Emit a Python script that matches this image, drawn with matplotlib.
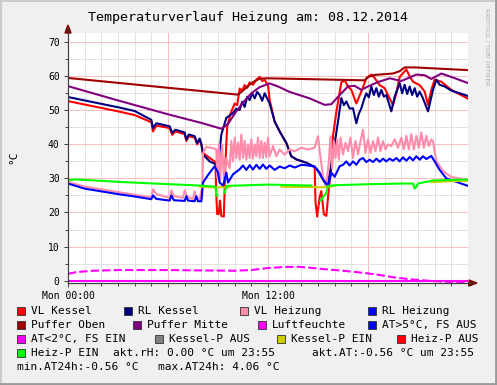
import numpy as np
import matplotlib
matplotlib.use('Agg')
import matplotlib.pyplot as plt
from matplotlib.patches import Rectangle
from matplotlib.lines import Line2D

# ---- data (hours since Mon 00:00) ----
vl_kessel_t = [0, 1, 2, 3, 4, 5.0, 5.1, 5.3, 6.1, 6.25, 6.45, 7.0, 7.1, 7.25, 7.6, 7.75, 7.9, 8.0, 8.1,
               8.5, 8.85, 8.9, 8.95, 9.05, 9.12, 9.2, 9.35, 9.45, 9.55, 9.75, 10.0, 10.15, 10.3, 10.45,
               10.6, 10.75, 10.9, 11.1, 11.3, 11.5, 11.65, 11.8, 12.0, 12.1, 12.4, 12.7, 13.1, 13.4,
               13.7, 14.3, 14.8, 14.85, 14.95, 15.1, 15.2, 15.35, 15.5, 15.65, 15.8, 15.9, 16.1, 16.4,
               16.6, 16.8, 17.0, 17.3, 17.6, 17.9, 18.2, 18.4, 18.7, 19.0, 19.3, 19.5, 19.7, 19.9,
               20.3, 20.5, 20.7, 21.1, 21.4, 21.6, 21.8, 22.0, 22.4, 23.0, 24.0]
vl_kessel = [52.7, 51.7, 50.7, 49.7, 48.6, 46.5, 43.8, 45.5, 44.8, 42.8, 43.8, 43.0, 41.0, 42.4, 42.0, 40.0,
             41.4, 40.2, 37.5, 36.0, 34.8, 25.0, 19.5, 19.6, 23.5, 19.0, 18.8, 35.0, 45.2, 49.0, 52.0,
             51.5, 56.4, 55.8, 57.4, 56.6, 58.2, 57.5, 59.0, 59.8, 58.6, 58.9, 57.4, 53.0, 46.7, 43.8,
             40.4, 36.5, 35.6, 34.6, 33.3, 23.0, 18.8, 24.5, 26.3, 19.5, 19.0, 27.0, 33.0, 42.5, 49.5,
             58.2, 58.8, 57.0, 56.0, 52.0, 55.5, 59.4, 60.5, 59.5, 57.4, 56.5, 53.5, 51.5, 55.0, 59.8,
             62.0, 60.0, 58.4, 57.4, 55.5, 51.6, 56.0, 59.0, 58.4, 56.0, 53.4]

rl_kessel_t = [0, 1, 2, 3, 4, 5.0, 5.1, 5.3, 6.1, 6.25, 6.45, 7.0, 7.1, 7.25, 7.6, 7.75, 7.9, 8.0, 8.1,
               8.5, 8.9, 9.0, 9.1, 9.2, 9.5, 9.7, 9.9, 10.1, 10.3, 10.45, 10.6, 10.75, 10.9, 11.05,
               11.2, 11.35, 11.5, 11.65, 11.8, 11.95, 12.1, 12.4, 12.7, 13.1, 13.4, 13.7, 14.3, 14.8,
               15.1, 15.5, 15.7, 15.9, 16.2, 16.4, 16.55, 16.7, 16.9, 17.1, 17.3, 17.45, 17.6, 17.75,
               17.9, 18.05, 18.2, 18.35, 18.5, 18.65, 18.8, 18.95, 19.1, 19.4, 19.6, 19.9, 20.05, 20.2,
               20.35, 20.5, 20.65, 20.8, 20.95, 21.1, 21.3, 21.6, 21.9, 22.1, 22.3, 22.6, 23.0, 23.5, 24]
rl_kessel = [53.9, 52.9, 51.9, 50.9, 49.8, 47.2, 44.8, 46.2, 45.3, 43.4, 44.3, 43.5, 41.4, 42.9, 42.4, 40.4,
             41.7, 40.0, 37.0, 35.0, 34.1, 32.2, 38.0, 42.9, 47.8, 48.5, 49.2, 50.5, 50.1, 52.5, 51.0,
             54.0, 53.0, 55.0, 53.5, 55.4, 54.5, 52.8, 55.0, 53.5, 52.0, 46.7, 43.8, 40.4, 36.5, 35.6,
             34.6, 33.4, 31.7, 27.8, 31.2, 37.0, 46.7, 53.6, 51.5, 52.6, 50.5, 50.6, 46.2, 49.0, 50.6,
             53.0, 55.0, 53.8, 57.0, 54.5, 56.5, 54.0, 56.0, 54.0, 54.5, 49.7, 54.0, 58.0, 55.0, 57.5,
             54.8, 57.0, 54.5, 56.5, 54.0, 55.5, 53.5, 49.7, 56.0, 59.0, 57.5, 57.0, 55.8, 55.0, 54.2]

vl_heizung_t = [0, 1, 2, 3, 4, 5.0, 5.1, 5.3, 6.1, 6.2, 6.35, 6.9, 7.0, 7.15, 7.5, 7.6, 7.7, 7.9, 8.0, 8.05,
                8.1, 8.3, 8.6, 8.9, 8.95, 9.05, 9.12, 9.25, 9.35, 9.5, 9.7, 9.8, 9.9, 10.0, 10.1, 10.2,
                10.3, 10.4, 10.5, 10.6, 10.7, 10.8, 10.9, 11.0, 11.1, 11.2, 11.3, 11.4, 11.5, 11.6, 11.7,
                11.8, 11.9, 12.0, 12.1, 12.3, 12.5, 12.7, 13.0, 13.3, 13.6, 14.0, 14.4, 14.8, 15.0, 15.1,
                15.3, 15.5, 15.65, 15.75, 15.85, 15.95, 16.05, 16.15, 16.25, 16.35, 16.5, 16.65, 16.8,
                16.95, 17.1, 17.25, 17.4, 17.55, 17.7, 17.85, 18.0, 18.15, 18.3, 18.45, 18.6, 18.75,
                18.9, 19.05, 19.2, 19.4, 19.6, 19.8, 20.0, 20.15, 20.3, 20.45, 20.6, 20.75, 20.9, 21.05,
                21.2, 21.35, 21.5, 21.65, 21.8, 21.9, 22.1, 22.5, 23.0, 24]
vl_heizung = [29.0, 27.6, 26.8, 26.0, 25.2, 24.5, 26.8, 25.4, 24.3, 26.5, 24.8, 24.3, 26.5, 24.6, 24.0, 26.2,
              24.2, 24.0, 26.5, 24.3, 37.5, 39.3, 39.0, 38.5, 30.3, 40.0, 29.2, 40.0, 30.0, 36.0, 33.0,
              41.0, 35.0, 42.0, 36.0, 40.5, 35.5, 42.9, 36.0, 41.0, 35.5, 40.0, 36.0, 41.5, 35.8, 40.0,
              36.5, 42.0, 36.0, 41.0, 36.0, 40.5, 36.2, 42.0, 36.5, 39.5, 36.5, 38.5, 37.0, 38.5, 38.0,
              39.0, 38.5, 39.0, 42.4, 38.0, 30.7, 27.8, 35.0, 42.4, 33.0, 41.0, 36.0, 41.5, 35.5, 42.0,
              37.0, 40.5, 38.0, 42.0, 36.0, 41.0, 37.0, 41.0, 44.3, 37.5, 41.5, 37.5, 41.0, 38.0, 42.0,
              38.0, 41.0, 38.5, 40.0, 39.5, 41.5, 39.0, 42.0, 38.5, 42.5, 38.5, 43.0, 38.5, 42.5, 39.0,
              43.5, 39.0, 42.5, 39.5, 41.5, 40.9, 35.1, 32.2, 30.4, 29.6]

rl_heizung_t = [0, 1, 2, 3, 4, 5.0, 5.1, 5.3, 6.1, 6.2, 6.35, 7.0, 7.1, 7.2, 7.6, 7.7, 7.8, 8.0, 8.1, 8.4,
                8.8, 9.0, 9.1, 9.3, 9.5, 9.6, 9.9, 10.3, 10.5, 10.7, 10.9, 11.1, 11.3, 11.5, 11.7, 11.9,
                12.1, 12.4, 12.7, 13.0, 13.3, 13.6, 14.0, 14.4, 14.8, 15.0, 15.3, 15.6, 15.8, 16.0, 16.3,
                16.5, 16.7, 16.9, 17.1, 17.3, 17.5, 17.7, 17.9, 18.1, 18.3, 18.5, 18.7, 18.9, 19.1, 19.3,
                19.5, 19.7, 19.9, 20.1, 20.3, 20.5, 20.7, 20.9, 21.1, 21.3, 21.5, 21.8, 22.0, 22.3, 22.7,
                23.3, 24]
rl_heizung = [28.5, 27.0, 26.2, 25.4, 24.7, 23.9, 25.0, 24.0, 23.5, 25.0, 23.6, 23.4, 24.8, 23.5, 23.3, 24.8,
              23.3, 23.3, 28.8, 31.0, 33.6, 31.7, 28.8, 27.8, 31.7, 28.8, 31.2, 32.7, 33.8, 32.5, 33.9,
              32.6, 34.0, 32.8, 34.1, 32.8, 33.8, 32.5, 33.5, 33.0, 33.8, 33.2, 34.0, 33.8, 33.5, 32.2,
              29.7, 27.8, 31.7, 30.5, 33.6, 34.0, 35.0, 33.8, 35.0, 34.0, 35.5, 36.0, 34.8, 35.5, 34.8,
              35.8, 34.9, 35.8, 35.0, 35.8, 35.2, 36.0, 35.0, 36.2, 35.2, 36.3, 35.3, 36.5, 35.5, 36.5,
              35.7, 36.6, 35.0, 32.5, 30.0, 29.0, 27.8]

puffer_oben_t = [0, 10.2, 10.5, 11.0, 11.5, 12.0, 14.0, 17.8, 18.0, 18.4, 19.5, 19.9, 20.2, 20.8, 24]
puffer_oben = [59.5, 54.6, 55.8, 58.0, 59.3, 59.4, 59.2, 58.8, 59.8, 60.4, 60.8, 61.5, 62.6, 62.6, 61.8]

puffer_mitte_t = [0, 3, 6.1, 8, 9.2, 9.6, 10.0, 10.5, 11.0, 11.5, 12.1, 12.6, 13.3, 14.5, 15.4, 15.8, 16.3,
                  16.8, 17.2, 17.6, 18.0, 18.6, 19.3, 20.0, 20.9, 21.4, 21.8, 22.4, 23.0, 24]
puffer_mitte = [57.1, 52.9, 48.7, 46.3, 44.6, 46.0, 49.0, 52.3, 55.0, 56.8, 57.9, 57.0, 55.4, 53.5, 51.6,
                51.8, 54.5, 57.0, 57.2, 56.0, 57.0, 58.3, 59.4, 58.6, 60.5, 60.3, 59.2, 60.8, 59.8, 58.0]

luftfeuchte_t = [0, 24]
luftfeuchte = [0.0, 0.0]

aussen_t = [0, 0.5, 1.5, 3, 6, 8, 10, 11, 12, 13, 13.8, 14.5, 15.5, 16.5, 17.5, 18.5, 19.5, 20.5, 21.5,
            22.5, 23.5, 24]
aussen = [2.0, 2.5, 2.9, 3.1, 3.1, 3.0, 2.9, 3.1, 3.7, 4.0, 4.06, 3.8, 3.3, 2.9, 2.4, 1.8, 1.0, 0.4, 0.0,
          -0.3, -0.5, -0.56]

kessel_p_ein_t = [7.9, 8.5, 9.0, 9.5, 9.7, np.nan, 12.8, 13.5, 14.5, 15.2, 15.6, 16.0, np.nan,
                  21.8, 22.5, 24]
kessel_p_ein = [27.6, 27.4, 27.4, 27.4, 27.5, np.nan, 27.6, 27.5, 27.5, 27.4, 27.5, 27.8, np.nan,
                28.9, 29.1, 29.3]

heiz_p_ein_t = [0, 0.5, 3, 6.1, 8.0, 8.85, 8.9, 8.95, 9.0, 9.4, 9.5, 12.0, 14.6, 14.65, 15.15, 15.5,
                15.6, 16, 18, 20, 20.7, 20.8, 20.9, 21.0, 21.9, 24]
heiz_p_ein = [29.5, 29.7, 29.0, 28.3, 27.9, 27.6, 25.0, 25.0, np.nan, 25.8, 27.8, 28.2, 27.9, np.nan,
              23.5, 25.8, 27.8, 28.0, 28.3, 28.5, 28.5, 27.0, 27.5, 28.5, 29.4, 29.7]

legend_labels = ['VL Kessel', 'RL Kessel', 'VL Heizung', 'RL Heizung',
                 'Puffer Oben', 'Puffer Mitte', 'Luftfeuchte', 'AT>5°C, FS AUS',
                 'AT<2°C, FS EIN', 'Kessel-P AUS', 'Kessel-P EIN', 'Heiz-P AUS',
                 'Heiz-P EIN']
legend_colors = ['#FF0000', '#000080', '#FF8CAA', '#0000FF',
                 '#A00000', '#800080', '#FF00FF', '#0000FF',
                 '#FF00FF', '#808080', '#CCCC00', '#FF0000',
                 '#00FF00']
info_texts = ['akt.rH: 0.00 °C um 23:55', 'akt.AT:-0.56 °C um 23:55',
              'min.AT24h:-0.56 °C', 'max.AT24h: 4.06 °C']
title = 'Temperaturverlauf Heizung am: 08.12.2014'
x_ticks = [0, 6, 12, 18]
x_labels = ['Mon 00:00', '', 'Mon 12:00', '']

# ---- layout ----
W, H = 497, 385
mono = 'DejaVu Sans Mono'

def fx(x):
    return x / W

def fy(y):
    return 1 - y / H

fig = plt.figure(figsize=(W / 100, H / 100), dpi=100, facecolor='#F0F0F0')

# bevel frame
fig.add_artist(Line2D([0, 1], [fy(0.5), fy(0.5)], color='#CBCBCB', lw=1.4, transform=fig.transFigure))
fig.add_artist(Line2D([fx(0.5), fx(0.5)], [0, 1], color='#CBCBCB', lw=1.4, transform=fig.transFigure))
fig.add_artist(Line2D([0, 1], [fy(384), fy(384)], color='#999999', lw=2, transform=fig.transFigure))
fig.add_artist(Line2D([fx(496), fx(496)], [0, 1], color='#999999', lw=2, transform=fig.transFigure))

ax = fig.add_axes([fx(68), fy(283), 400 / W, 250 / H])
ax.set_facecolor('white')
ax.set_xlim(0, 24)
ax.set_ylim(-0.7, 72.7)

ax.set_xticks(x_ticks)
ax.set_xticklabels(x_labels, fontsize=7, family=mono)
ax.set_xticks(np.arange(0, 25, 1), minor=True)
ax.set_yticks(np.arange(0, 71, 10))
ax.set_yticks(np.arange(5, 71, 10), minor=True)
for lab in ax.get_yticklabels():
    lab.set_fontfamily(mono)
    lab.set_fontsize(7)
ax.tick_params(which='both', direction='out', length=3, width=0.7, color='#404040', pad=3)
ax.tick_params(which='minor', length=2)
ax.grid(which='minor', color='#E2E2E2', lw=0.7, zorder=0)
ax.grid(which='major', color='#F5BFBF', lw=0.7, zorder=0)
ax.set_axisbelow(True)
for s in ['top', 'right']:
    ax.spines[s].set_visible(False)
for s in ['left', 'bottom']:
    ax.spines[s].set_color('#404040')
    ax.spines[s].set_linewidth(0.8)

# arrows
fig.add_artist(Line2D([fx(68), fx(68)], [fy(283), fy(28)], color='#404040', lw=0.8, transform=fig.transFigure))
fig.add_artist(Line2D([fx(68), fx(474)], [fy(283), fy(283)], color='#404040', lw=0.8, transform=fig.transFigure))
fig.patches.append(plt.Polygon([[fx(65), fy(33)], [fx(71), fy(33)], [fx(68), fy(25)]],
                               closed=True, color='#7F0000', transform=fig.transFigure))
fig.patches.append(plt.Polygon([[fx(469), fy(280)], [fx(469), fy(286)], [fx(477), fy(283)]],
                               closed=True, color='#7F0000', transform=fig.transFigure))

lw = 1.5
ax.plot(vl_kessel_t, vl_kessel, color=legend_colors[0], lw=lw)
ax.plot(rl_kessel_t, rl_kessel, color=legend_colors[1], lw=lw)
ax.plot(vl_heizung_t, vl_heizung, color=legend_colors[2], lw=lw)
ax.plot(rl_heizung_t, rl_heizung, color=legend_colors[3], lw=lw)
ax.plot(puffer_oben_t, puffer_oben, color=legend_colors[4], lw=lw)
ax.plot(puffer_mitte_t, puffer_mitte, color=legend_colors[5], lw=lw)
ax.plot(luftfeuchte_t, luftfeuchte, color=legend_colors[6], lw=lw)
ax.plot(aussen_t, aussen, color=legend_colors[8], lw=lw, dashes=(4, 1.5))
ax.plot(kessel_p_ein_t, kessel_p_ein, color=legend_colors[10], lw=lw)
ax.plot(heiz_p_ein_t, heiz_p_ein, color=legend_colors[12], lw=lw)

# texts
fig.text(0.5, fy(17), title, ha='center', va='center', fontsize=9.6, family=mono)
fig.text(fx(13), fy(157), '°C', rotation=90, ha='center', va='center', fontsize=8, family=mono)
fig.text(fx(487), fy(8), 'RRDTOOL / TOBI OETIKER', rotation=270, ha='center', va='top',
         fontsize=4.3, color='#AAAAAA')

# legend
box_x = [16.7, 124, 240, 368.3,
         16.7, 132.7, 257.7, 368.3,
         16.7, 155, 276.7, 396.7,
         16.7]
row_y = [311, 311, 311, 311, 325, 325, 325, 325, 339, 339, 339, 339, 353]
for lab, col, bx, ry in zip(legend_labels, legend_colors, box_x, row_y):
    fig.patches.append(Rectangle((fx(bx), fy(ry + 4)), 8 / W, 8 / H, facecolor=col,
                                 edgecolor='#303030', lw=0.6, transform=fig.transFigure))
    fig.text(fx(bx + 14), fy(ry), lab, ha='left', va='center', fontsize=8, family=mono)

fig.text(fx(113.3), fy(353), info_texts[0], ha='left', va='center', fontsize=8, family=mono)
fig.text(fx(312.3), fy(353), info_texts[1], ha='left', va='center', fontsize=8, family=mono)
fig.text(fx(16.7), fy(367), info_texts[2], ha='left', va='center', fontsize=8, family=mono)
fig.text(fx(158.3), fy(367), info_texts[3], ha='left', va='center', fontsize=8, family=mono)

fig.savefig('out.png', dpi=100, facecolor='#F0F0F0')
